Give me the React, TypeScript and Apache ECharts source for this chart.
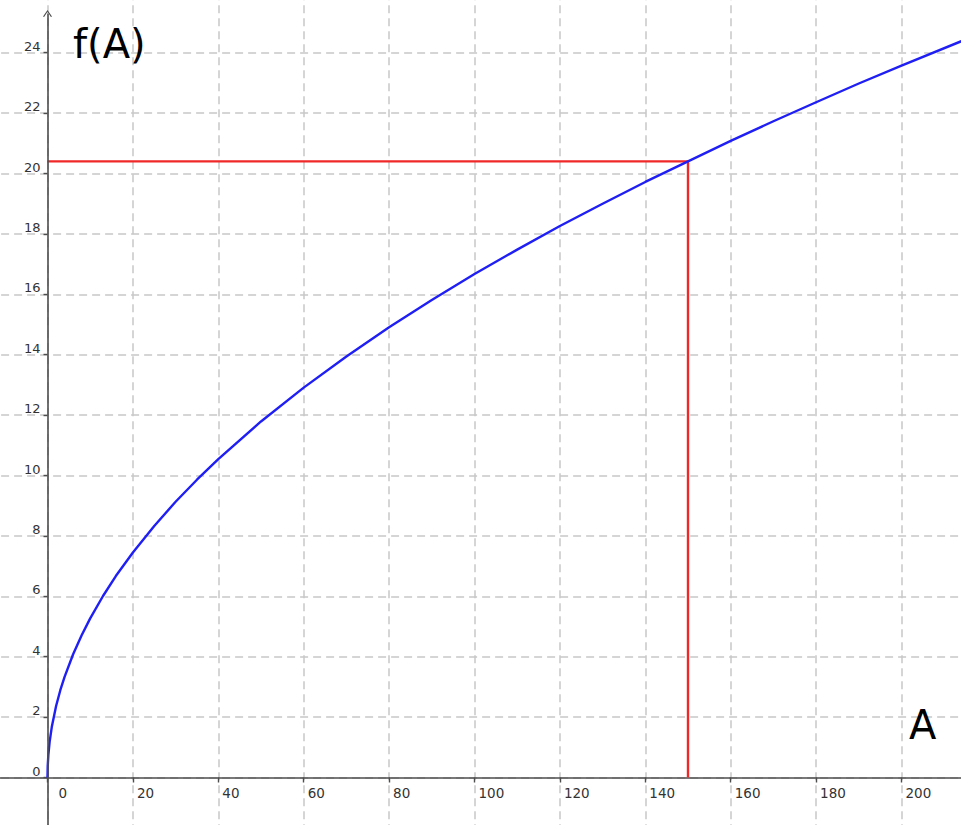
import React, { useEffect, useRef } from "react";
import * as echarts from "echarts";

// Curve f(A)
const aValues = [0, 0.05, 0.2, 0.5, 1, 2, 3, 4, 6, 8, 10, 13, 16, 20, 25, 30, 35, 40, 50, 60, 70, 80, 90, 100, 110, 120, 130, 140, 150, 160, 170, 180, 190, 200, 214];
const fValues = [0, 0.37, 0.75, 1.18, 1.67, 2.36, 2.89, 3.33, 4.08, 4.71, 5.27, 6.01, 6.67, 7.45, 8.33, 9.13, 9.86, 10.54, 11.79, 12.91, 13.94, 14.91, 15.81, 16.67, 17.48, 18.26, 19.0, 19.72, 20.4, 21.08, 21.73, 22.36, 22.98, 23.57, 24.38];

// Red guide lines (A = 150, f = 20.4)
const guideA = [0, 150, 150];
const guideF = [20.4, 20.4, 0];

// Axis extents and tick steps
const xMin = -20;
const xMax = 220;
const xStep = 20;
const yMin = -2;
const yMax = 26;
const yStep = 2;
const yArrowTip = 25.3;

const xTitle = "A";
const yTitle = "f(A)";

const FONT = "DejaVu Sans";

export default function App() {
  const ref = useRef<HTMLDivElement>(null);
  useEffect(() => {
    if (!ref.current) return;
    const chart = echarts.init(ref.current, null, { renderer: "svg" });
    const curve = aValues.map((a, i) => [a, fValues[i]]);
    const guide = guideA.map((a, i) => [a, guideF[i]]);
    const axisColor = "#4d4d4d";
    const gridLine = { show: true, lineStyle: { color: "#c8c8c8", width: 1.5, type: [8, 5] as any } };
    chart.setOption({
      animation: false,
      backgroundColor: "#ffffff",
      grid: [
        // full plotting area (grid lines, data, x axis line)
        { left: -37.9, right: -25.9, top: -7.7, bottom: -12.9, containLabel: false, outerBoundsMode: "none" },
        // quadrant whose left/bottom edges are the axes (ticks, labels)
        { left: 47.5, right: -25.9, top: -7.7, bottom: 47.5, containLabel: false, outerBoundsMode: "none" },
      ],
      xAxis: [
        {
          gridIndex: 0,
          type: "value",
          min: xMin,
          max: xMax,
          interval: xStep,
          axisLine: { show: true, onZero: true, lineStyle: { color: axisColor, width: 1.6 } },
          axisTick: { show: false },
          axisLabel: { show: false },
          splitLine: gridLine,
        },
        {
          gridIndex: 1,
          type: "value",
          min: 0,
          max: xMax,
          interval: xStep,
          position: "bottom",
          axisLine: { show: false, onZero: false },
          axisTick: { show: true, length: 5, lineStyle: { color: axisColor, width: 1.4 } },
          axisLabel: {
            show: true,
            margin: 8,
            align: "left",
            color: "#333",
            fontFamily: FONT,
            fontSize: 13.5,
            padding: [0, 0, 0, 4],
            hideOverlap: false,
            showMaxLabel: false,
            formatter: (v: number) => (v === 0 ? "{z|0}" : String(v)),
            rich: { z: { padding: [0, 0, 0, 7], fontFamily: FONT, fontSize: 13.5, color: "#333" } },
          },
          splitLine: { show: false },
        },
      ],
      yAxis: [
        {
          gridIndex: 0,
          type: "value",
          min: yMin,
          max: yMax,
          interval: yStep,
          axisLine: { show: false },
          axisTick: { show: false },
          axisLabel: { show: false },
          splitLine: gridLine,
        },
        {
          gridIndex: 1,
          type: "value",
          min: 0,
          max: yMax,
          interval: yStep,
          position: "left",
          axisLine: { show: false, onZero: false },
          axisTick: { show: true, length: 4, lineStyle: { color: axisColor, width: 1.4 } },
          axisLabel: {
            show: true,
            margin: 7,
            verticalAlign: "bottom",
            color: "#333",
            fontFamily: FONT,
            fontSize: 13,
            hideOverlap: false,
            showMaxLabel: false,
          },
          splitLine: { show: false },
        },
      ],
      graphic: [
        {
          type: "text",
          left: 73,
          top: 24,
          style: { text: yTitle, font: `40px "${FONT}"`, fill: "#000" },
          z: 100,
        },
        {
          type: "text",
          left: 909,
          top: 705,
          style: { text: xTitle, font: `40px "${FONT}"`, fill: "#000" },
          z: 100,
        },
      ],
      series: [
        {
          type: "line",
          xAxisIndex: 0,
          yAxisIndex: 0,
          data: guide,
          showSymbol: false,
          symbol: "none",
          silent: true,
          lineStyle: { color: "#f02828", width: 2.4 },
          z: 3,
        },
        {
          type: "line",
          xAxisIndex: 0,
          yAxisIndex: 0,
          data: curve,
          showSymbol: false,
          symbol: "none",
          silent: true,
          lineStyle: { color: "#1f1ff5", width: 2.4 },
          z: 4,
          markLine: {
            silent: true,
            symbol: ["none", "path://M0 9 L5 0 L10 9 L8.8 9.6 L5 2.6 L1.2 9.6 Z"],
            symbolSize: [9, 7],
            label: { show: false },
            emphasis: { disabled: true },
            lineStyle: { color: axisColor, width: 1.6, type: "solid" },
            data: [[{ coord: [0, yMin] }, { coord: [0, yArrowTip] }]],
          },
        },
      ],
    });
    return () => chart.dispose();
  }, []);
  return <div ref={ref} style={{ position: "fixed", left: 0, top: 0, width: 961, height: 825 }} />;
}
